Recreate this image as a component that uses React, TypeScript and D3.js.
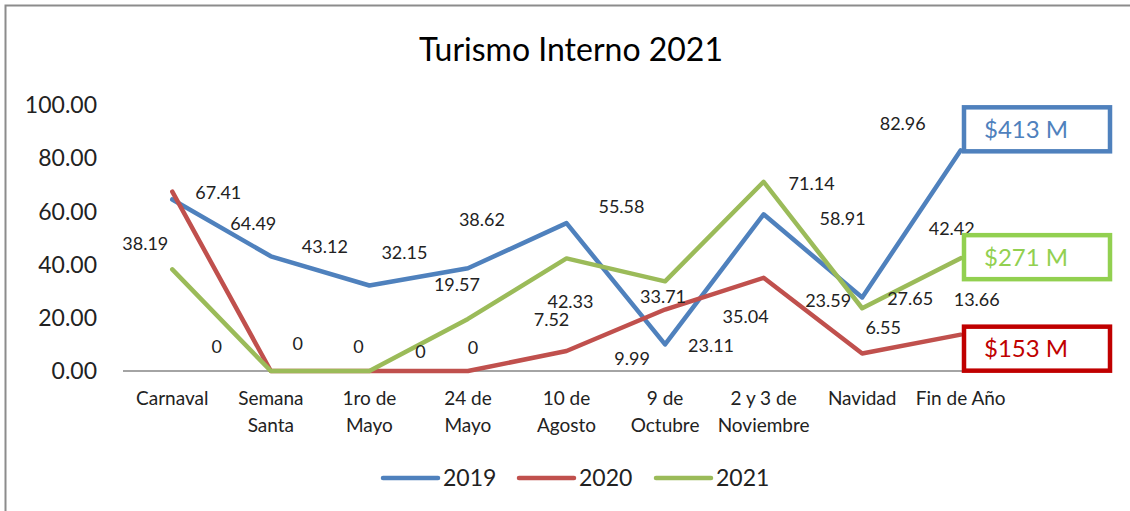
import React, { useEffect, useRef } from 'react';
import * as d3 from 'd3';

const categories = ['Carnaval', 'Semana Santa', '1ro de Mayo', '24 de Mayo', '10 de Agosto', '9 de Octubre', '2 y 3 de Noviembre', 'Navidad', 'Fin de Año'];
const yTicks = [0, 20, 40, 60, 80, 100];
const seriesNames = ['2019', '2020', '2021'];
const values2019 = [64.49, 43.12, 32.15, 38.62, 55.58, 9.99, 58.91, 27.65, 82.96];
const values2020 = [67.41, 0, 0, 0, 7.52, 23.11, 35.04, 6.55, 13.66];
const values2021 = [38.19, 0, 0, 19.57, 42.33, 33.71, 71.14, 23.59, 42.42];
// totals per series, same order as seriesNames
const callouts = ['$413 M', '$153 M', '$271 M'];

// where excel put each data label, relative to its point
const labelOffsets2019 = [[81, 24], [54, -10], [35, -33], [14, -49], [55, -17], [-33, 14], [79, 4], [48, 1], [-58, -27]];
const labelOffsets2020 = [[46, 1], [27, -27], [51, -19], [5, -23], [-15, -31], [46, 36], [-18, 39], [21, -26], [16, -35]];
const labelOffsets2021 = [[-27, -26], [-54, -24], [-11, -24], [-11, -34], [4, 43], [-2, 15], [48, 2], [-34, -8], [-9, -30]];

const lineColors = ['#4F81BD', '#C0504D', '#9BBB59'];
const boxColors = ['#4F81BD', '#C00000', '#92D050'];
const boxTopOffsets = [-43, -8, -23];
const FONT = 'Lato, "Open Sans", sans-serif';

function App() {
    const chartRef = useRef<SVGSVGElement>(null);

    useEffect(() => {
        drawChart();
    }, []);

    const drawChart = () => {
        const svg = d3.select(chartRef.current);
        svg.selectAll('*').remove();

        const series = [values2019, values2020, values2021];
        const offsets = [labelOffsets2019, labelOffsets2020, labelOffsets2021];

        const xScale = d3.scaleBand<string>()
            .domain(categories)
            .range([123, 1010]);
        const xc = (c: string) => (xScale(c) as number) + xScale.bandwidth() / 2;

        const yScale = d3.scaleLinear()
            .domain([0, 100])
            .range([371, 105]);

        // chart border
        svg.append('rect')
            .attr('x', 5.5).attr('y', 5.5)
            .attr('width', 1140).attr('height', 520)
            .attr('fill', 'white')
            .attr('stroke', '#8c8c8c')
            .attr('stroke-width', 2);

        svg.append('text')
            .attr('x', 571).attr('y', 61)
            .attr('text-anchor', 'middle')
            .attr('font-family', FONT)
            .attr('font-size', 32)
            .attr('fill', '#000')
            .text('Turismo Interno 2021');

        // y tick labels
        svg.selectAll('.ytick')
            .data(yTicks)
            .enter().append('text')
            .attr('x', 97)
            .attr('y', d => yScale(d))
            .attr('dy', '0.36em')
            .attr('text-anchor', 'end')
            .attr('font-family', FONT)
            .attr('font-size', 23)
            .attr('fill', '#222')
            .text(d => d3.format('.2f')(d));

        // x axis line
        svg.append('line')
            .attr('x1', 123).attr('x2', 1010)
            .attr('y1', yScale(0)).attr('y2', yScale(0))
            .attr('stroke', '#868686')
            .attr('stroke-width', 1.5);

        // category labels, wrapped to the band width like excel does
        const maxW = xScale.bandwidth() - 6;
        svg.selectAll('.cat')
            .data(categories)
            .enter().append('text')
            .attr('text-anchor', 'middle')
            .attr('font-family', FONT)
            .attr('font-size', 19)
            .attr('fill', '#222')
            .each(function (c) {
                const t = d3.select(this);
                const words = c.split(' ');
                let lineNo = 0;
                let cur: string[] = [];
                let tspan = t.append('tspan').attr('x', xc(c)).attr('y', 405);
                words.forEach(w => {
                    cur.push(w);
                    tspan.text(cur.join(' '));
                    const node = tspan.node() as SVGTSpanElement;
                    if (node.getComputedTextLength() > maxW && cur.length > 1) {
                        cur.pop();
                        tspan.text(cur.join(' '));
                        cur = [w];
                        lineNo++;
                        tspan = t.append('tspan')
                            .attr('x', xc(c))
                            .attr('y', 405 + lineNo * 27)
                            .text(w);
                    }
                });
            });

        const line = d3.line<number>()
            .x((d, i) => xc(categories[i]))
            .y(d => yScale(d));

        series.forEach((vals, s) => {
            svg.append('path')
                .datum(vals)
                .attr('d', line)
                .attr('fill', 'none')
                .attr('stroke', lineColors[s])
                .attr('stroke-width', 4.5)
                .attr('stroke-linejoin', 'round')
                .attr('stroke-linecap', 'round');
        });

        // data labels
        series.forEach((vals, s) => {
            svg.selectAll('.lbl' + s)
                .data(vals)
                .enter().append('text')
                .attr('x', (d, i) => xc(categories[i]) + offsets[s][i][0])
                .attr('y', (d, i) => yScale(d) + offsets[s][i][1])
                .attr('dy', '0.36em')
                .attr('text-anchor', 'middle')
                .attr('font-family', FONT)
                .attr('font-size', 18)
                .attr('fill', '#222')
                .text(d => (d === 0 ? '0' : d.toFixed(2)));
        });

        // callout boxes with totals
        callouts.forEach((txt, s) => {
            const last = series[s][series[s].length - 1];
            const top = yScale(last) + boxTopOffsets[s];
            svg.append('rect')
                .attr('x', 964).attr('y', top)
                .attr('width', 146).attr('height', 44)
                .attr('fill', 'white')
                .attr('stroke', boxColors[s])
                .attr('stroke-width', 4.5);
            svg.append('text')
                .attr('x', 984).attr('y', top + 22)
                .attr('dy', '0.36em')
                .attr('font-family', FONT)
                .attr('font-size', 24)
                .attr('fill', boxColors[s])
                .text(txt);
        });

        // legend
        const legendX = [383, 519, 656];
        seriesNames.forEach((name, s) => {
            svg.append('line')
                .attr('x1', legendX[s]).attr('x2', legendX[s] + 55)
                .attr('y1', 478).attr('y2', 478)
                .attr('stroke', lineColors[s])
                .attr('stroke-width', 4.5)
                .attr('stroke-linecap', 'round');
            svg.append('text')
                .attr('x', legendX[s] + 60).attr('y', 478)
                .attr('dy', '0.36em')
                .attr('font-family', FONT)
                .attr('font-size', 23)
                .attr('fill', '#222')
                .text(name);
        });
    };

    return (
        <svg ref={chartRef} width={1130} height={511}
            style={{ position: 'absolute', left: 0, top: 0, background: 'white' }}></svg>
    );
}

export default App;
